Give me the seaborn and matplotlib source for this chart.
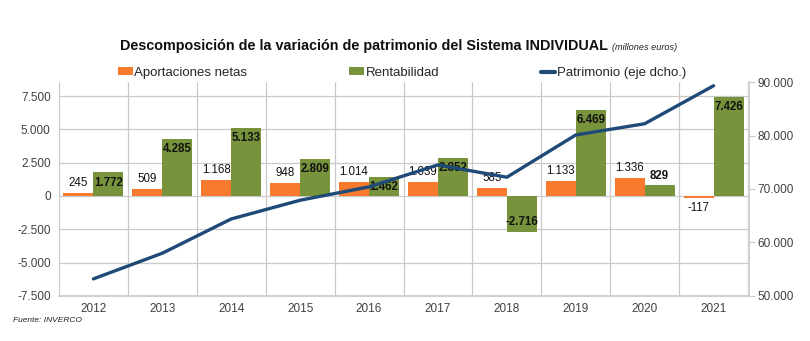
import numpy as np
import pandas as pd
import matplotlib
matplotlib.use("Agg")
import matplotlib.pyplot as plt
import seaborn as sns
from matplotlib.patches import Patch
from matplotlib.lines import Line2D
from matplotlib.ticker import FixedLocator, FuncFormatter

# Data (millones de euros)
years = ["2012", "2013", "2014", "2015", "2016", "2017", "2018", "2019", "2020", "2021"]
aportaciones = [245, 509, 1168, 948, 1014, 1039, 585, 1133, 1336, -117]
rentabilidad = [1772, 4285, 5133, 2809, 1462, 2852, -2716, 6469, 829, 7426]
patrimonio = [53200, 58000, 64400, 67900, 70400, 74500, 72200, 80100, 82200, 89300]

series_names = ["Aportaciones netas", "Rentabilidad"]
line_name = "Patrimonio (eje dcho.)"
left_ticks = [-7500, -5000, -2500, 0, 2500, 5000, 7500]
right_ticks = [50000, 60000, 70000, 80000, 90000]

ORANGE = "#F77A2F"
GREEN = "#77933C"
NAVY = "#1F4A78"
GRID = "#C9C9C9"
TICK = "#404040"


def es_num(v):
    return f"{v:,.0f}".replace(",", ".")


sns.set_theme(style="white")
plt.rcParams["font.family"] = ["Liberation Sans", "DejaVu Sans"]

df = pd.DataFrame({
    "year": years * 2,
    "serie": [series_names[0]] * len(years) + [series_names[1]] * len(years),
    "valor": aportaciones + rentabilidad,
})
line_df = pd.DataFrame({"pos": np.arange(len(years)), "patrimonio": patrimonio})

fig = plt.figure(figsize=(8.10, 3.41), dpi=100)
ax = fig.add_axes([0.0728, 0.132, 0.8507, 0.6275])

sns.barplot(data=df, x="year", y="valor", hue="serie", order=years,
            hue_order=series_names, palette=[ORANGE, GREEN], width=0.87,
            saturation=1, linewidth=0, legend=False, ax=ax)

ax.set_xlim(-0.5, len(years) - 0.5)
ax.set_ylim(-7500, 8550)
ax.set_axisbelow(True)
ax.set_xlabel("")
ax.set_ylabel("")
ax.yaxis.set_major_locator(FixedLocator(left_ticks))
ax.yaxis.set_major_formatter(FuncFormatter(lambda v, p: es_num(v)))
ax.xaxis.set_minor_locator(FixedLocator(np.arange(-0.5, len(years), 1.0)))
ax.grid(True, which="minor", axis="x", color=GRID, lw=0.9)
ax.grid(True, which="major", axis="y", color=GRID, lw=0.9)
ax.grid(False, which="major", axis="x")
ax.tick_params(axis="both", which="both", length=0, colors=TICK, labelsize=8.5)
ax.tick_params(axis="x", pad=5)
ax.tick_params(axis="y", pad=6)
for s in ["top", "left", "right"]:
    ax.spines[s].set_visible(False)
ax.spines["bottom"].set_color(GRID)

# value labels
orange_bars, green_bars = ax.containers[0], ax.containers[1]
for bar in orange_bars:
    h = bar.get_height()
    xc = bar.get_x() + bar.get_width() / 2
    off = 3 if h >= 0 else -3
    ax.annotate(es_num(h), (xc, h), xytext=(0, off), textcoords="offset points",
                ha="center", va="bottom" if h >= 0 else "top",
                fontsize=8.3, color="#111111")
for bar in green_bars:
    h = bar.get_height()
    xc = bar.get_x() + bar.get_width() / 2
    if abs(h) < 1000:
        off, va = 2, "bottom"
    elif h >= 0:
        off, va = -3, "top"
    else:
        off, va = 3, "bottom"
    ax.annotate(es_num(h), (xc, h), xytext=(0, off), textcoords="offset points",
                ha="center", va=va, fontsize=8.3, fontweight="bold", color="#111111")

# right axis line
ax2 = ax.twinx()
sns.lineplot(data=line_df, x="pos", y="patrimonio", color=NAVY, lw=2.4, ax=ax2)
ax2.set_ylim(50000, 90000)
ax2.set_xlim(-0.5, len(years) - 0.5)
ax2.set_xlabel("")
ax2.set_ylabel("")
ax2.yaxis.set_major_locator(FixedLocator(right_ticks))
ax2.yaxis.set_major_formatter(FuncFormatter(lambda v, p: es_num(v)))
ax2.tick_params(axis="y", length=4, width=0.8, color=GRID, colors=TICK, labelsize=8.5, pad=2)
ax2.grid(False)
for s in ["top", "left", "bottom"]:
    ax2.spines[s].set_visible(False)
ax2.spines["right"].set_color(GRID)
ax2.spines["right"].set_position(("outward", 1))

# legend
handles = [
    Patch(facecolor=ORANGE, edgecolor="none"),
    Patch(facecolor=GREEN, edgecolor="none"),
    Line2D([0], [0], color=NAVY, lw=3),
]
fig.legend(handles, series_names + [line_name], loc="center left",
           bbox_to_anchor=(118 / 810, 1 - 73 / 341), ncol=3, frameon=False,
           fontsize=9.5, handlelength=1.1, handleheight=0.55, handletextpad=0.15,
           columnspacing=7.7, borderaxespad=0, borderpad=0)

# title
title = fig.text(120 / 810, 1 - 46 / 341,
                 "Descomposición de la variación de patrimonio del Sistema INDIVIDUAL",
                 ha="left", va="center", fontsize=10.4, fontweight="bold", color="#111111")
fig.canvas.draw()
bb = title.get_window_extent()
fig.text((bb.x1 + 4) / 810, 1 - 47 / 341, "(millones euros)", ha="left", va="center",
         fontsize=6.6, style="italic", color="#222222")

fig.text(13 / 810, 1 - 320 / 341, "Fuente: INVERCO", ha="left", va="center",
         fontsize=6.0, style="italic", color="#222222")

fig.savefig("out.png", dpi=100)
